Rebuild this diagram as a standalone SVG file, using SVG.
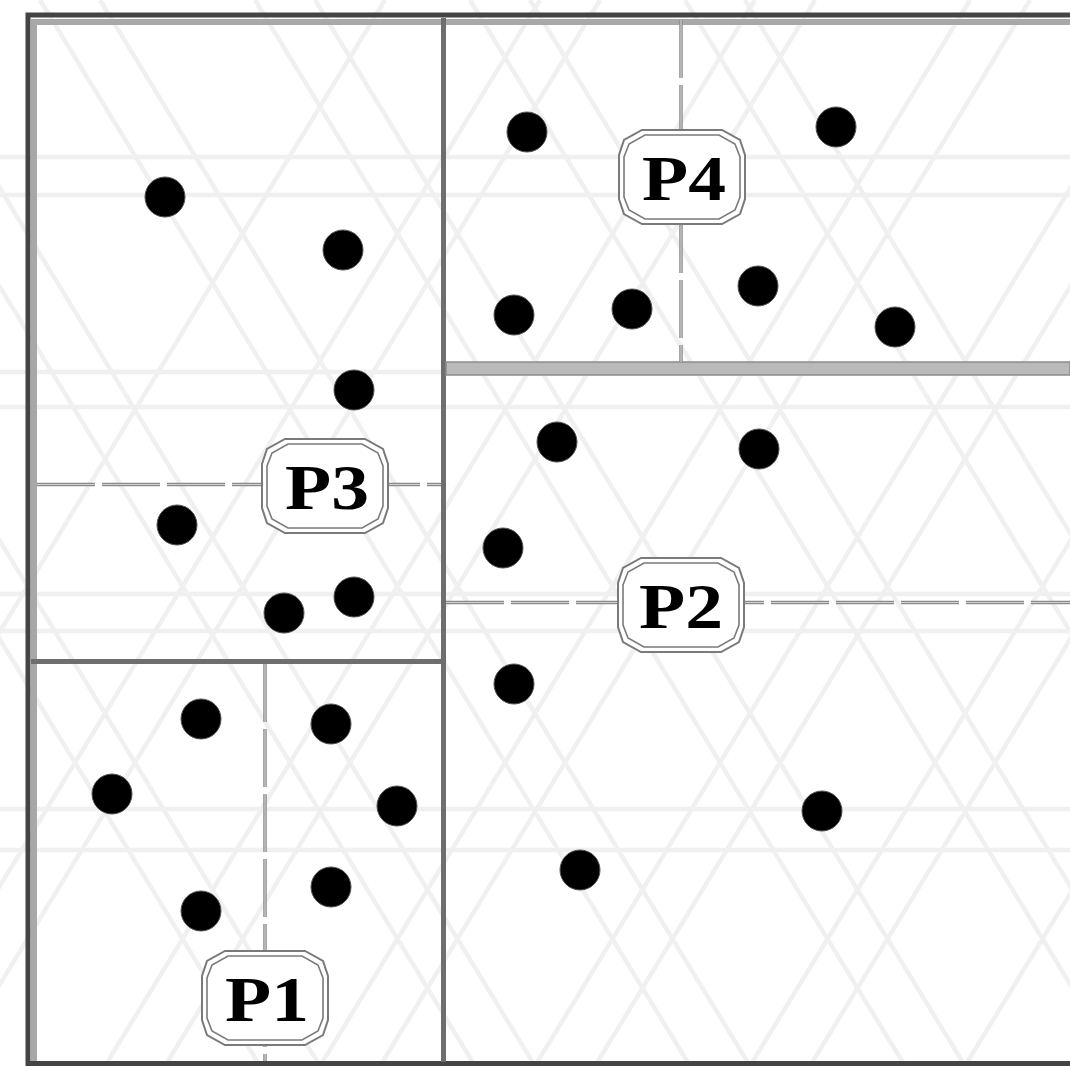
<svg xmlns="http://www.w3.org/2000/svg" width="1070" height="1066" viewBox="0 0 1070 1066">
<style>
.wm{stroke:#f0f0f0;stroke-width:4.5;fill:none}
.pt{fill:#000;stroke:#555;stroke-width:1}
.split{stroke:#8a8a8a;stroke-width:3.5;fill:none;stroke-dasharray:58 7}
.splitin{stroke:#d0d0d0;stroke-width:1.2;fill:none;stroke-dasharray:58 7}
.frame{stroke:#444;stroke-width:5;fill:none}
.frame2{stroke:#a8a8a8;stroke-width:6;fill:none}
.div{stroke:#6e6e6e;stroke-width:5;fill:none}
.oct{fill:#fff;stroke:#7a7a7a;stroke-width:2}
.octin{fill:none;stroke:#7a7a7a;stroke-width:1.6}
.lbl{font-family:"Liberation Serif","Times New Roman",serif;font-weight:bold;font-size:64px;fill:#000;text-anchor:middle}
</style>
<defs>
<path id="octOuter" d="M-40,-47 L40,-47 L58,-37 L63,-22 L63,22 L58,37 L40,47 L-40,47 L-58,37 L-63,22 L-63,-22 L-58,-37 Z"/>
<path id="octInner" d="M-37,-42 L37,-42 L53,-33 L58,-20 L58,20 L53,33 L37,42 L-37,42 L-53,33 L-58,20 L-58,-20 L-53,-33 Z"/>
</defs>
<rect width="1070" height="1066" fill="#fff"/>
<g id="watermark">
<path class="wm" d="M0,157 H1070 M0,195 H1070 M0,372 H1070 M0,407 H1070 M0,594 H1070 M0,631 H1070 M0,809 H1070 M0,850 H1070"/>
<path class="wm" d="M40,0 L690,1066 M255,0 L905,1066 M470,0 L1120,1066 M685,0 L1335,1066 M-175,0 L475,1066 M-390,0 L260,1066 M100,0 L750,1066 M315,0 L965,1066 M530,0 L1180,1066 M745,0 L1395,1066 M-115,0 L535,1066 M-330,0 L320,1066"/>
<path class="wm" d="M1030,0 L380,1066 M815,0 L165,1066 M600,0 L-50,1066 M385,0 L-265,1066 M1245,0 L595,1066 M1460,0 L810,1066 M970,0 L320,1066 M755,0 L105,1066 M540,0 L-110,1066 M1185,0 L535,1066 M1400,0 L750,1066 M1615,0 L965,1066"/>
</g>
<g id="connectors">
<path class="frame2" d="M34,1066 V22 H1070"/>
<path class="frame" d="M28,1066 V15 H1070"/>
<path class="frame" d="M28,1063.5 H1070"/>
<path class="div" d="M443.5,18 V1062"/>
<path class="div" d="M31,661.5 H441"/>
<rect x="446" y="362" width="624" height="13" fill="#b9b9b9" stroke="#8c8c8c" stroke-width="1.5"/>
<g id="split-p4"><path class="split" d="M681,20 V362"/><path class="splitin" d="M681,20 V362"/></g>
<g id="split-p3"><path class="split" d="M37,484.5 H441"/><path class="splitin" d="M37,484.5 H441"/></g>
<g id="split-p2"><path class="split" d="M446,602.5 H1070"/><path class="splitin" d="M446,602.5 H1070"/></g>
<g id="split-p1"><path class="split" d="M265,664 V1061"/><path class="splitin" d="M265,664 V1061"/></g>
</g>
<g id="points">
<circle class="pt" cx="165" cy="197" r="20"/>
<circle class="pt" cx="343" cy="250" r="20"/>
<circle class="pt" cx="354" cy="390" r="20"/>
<circle class="pt" cx="177" cy="525" r="20"/>
<circle class="pt" cx="284" cy="613" r="20"/>
<circle class="pt" cx="354" cy="597" r="20"/>
<circle class="pt" cx="201" cy="719" r="20"/>
<circle class="pt" cx="331" cy="724" r="20"/>
<circle class="pt" cx="112" cy="794" r="20"/>
<circle class="pt" cx="397" cy="806" r="20"/>
<circle class="pt" cx="331" cy="887" r="20"/>
<circle class="pt" cx="201" cy="911" r="20"/>
<circle class="pt" cx="527" cy="132" r="20"/>
<circle class="pt" cx="836" cy="127" r="20"/>
<circle class="pt" cx="514" cy="315" r="20"/>
<circle class="pt" cx="632" cy="309" r="20"/>
<circle class="pt" cx="758" cy="286" r="20"/>
<circle class="pt" cx="895" cy="327" r="20"/>
<circle class="pt" cx="557" cy="442" r="20"/>
<circle class="pt" cx="759" cy="449" r="20"/>
<circle class="pt" cx="503" cy="548" r="20"/>
<circle class="pt" cx="514" cy="684" r="20"/>
<circle class="pt" cx="822" cy="811" r="20"/>
<circle class="pt" cx="580" cy="870" r="20"/>
</g>
<g id="P4" transform="translate(682,177)"><use href="#octOuter" class="oct"/><use href="#octInner" class="octin"/><text class="lbl" x="2" y="23" textLength="84" lengthAdjust="spacingAndGlyphs">P4</text></g>
<g id="P3" transform="translate(325,486)"><use href="#octOuter" class="oct"/><use href="#octInner" class="octin"/><text class="lbl" x="2" y="23" textLength="84" lengthAdjust="spacingAndGlyphs">P3</text></g>
<g id="P2" transform="translate(681,605)"><use href="#octOuter" class="oct"/><use href="#octInner" class="octin"/><text class="lbl" x="0" y="23" textLength="84" lengthAdjust="spacingAndGlyphs">P2</text></g>
<g id="P1" transform="translate(265,998)"><use href="#octOuter" class="oct"/><use href="#octInner" class="octin"/><text class="lbl" x="2" y="23" textLength="84" lengthAdjust="spacingAndGlyphs">P1</text></g>
</svg>
